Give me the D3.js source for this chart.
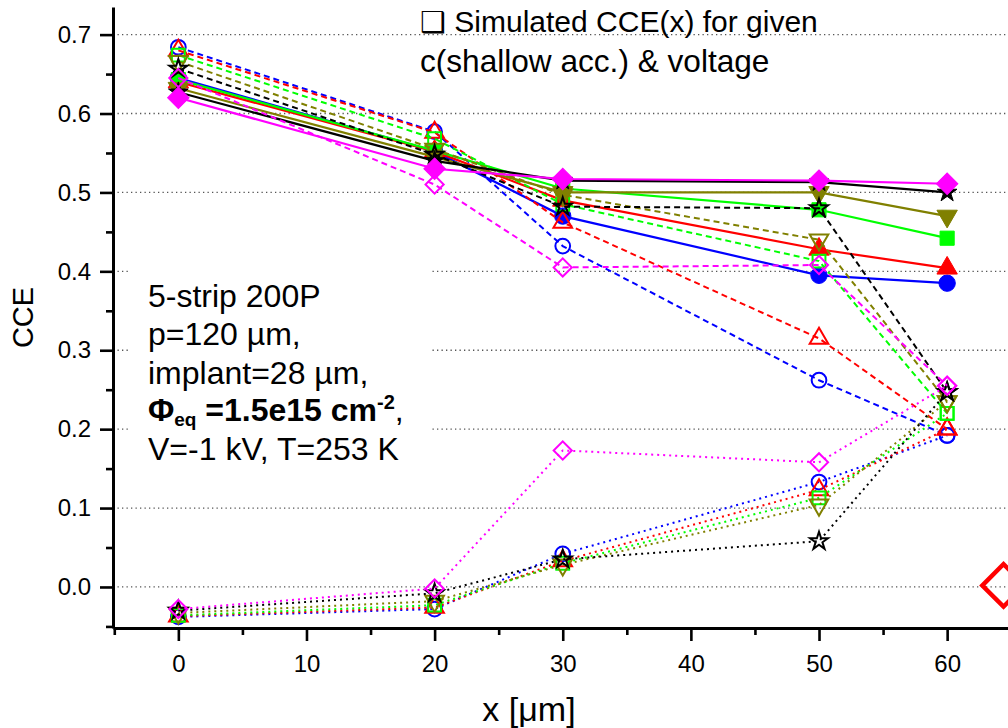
<!DOCTYPE html>
<html>
<head>
<meta charset="utf-8">
<script src="https://cdn.jsdelivr.net/npm/d3@7"></script>
<style>
  html, body { margin: 0; padding: 0; background: #fff; }
  svg { display: block; font-family: "Liberation Sans", Arial, Helvetica, sans-serif; }
</style>
</head>
<body>
<svg id="chart" width="1008" height="728"></svg>
<script>
// ---- data ---------------------------------------------------------------
const xValues = [0, 20, 30, 50, 60];            // position x [µm]
const xTickValues = [0, 10, 20, 30, 40, 50, 60];
const xMinorTicks = [-5, 5, 15, 25, 35, 45, 55];
const yTickValues = [0.0, 0.1, 0.2, 0.3, 0.4, 0.5, 0.6, 0.7];
const yTickLabels = ["0.0", "0.1", "0.2", "0.3", "0.4", "0.5", "0.6", "0.7"];
const yMinorTicks = [-0.05, 0.05, 0.15, 0.25, 0.35, 0.45, 0.55, 0.65];

// solid lines, filled symbols
const solidBlue    = [0.645, 0.552, 0.470, 0.395, 0.385];
const solidRed     = [0.640, 0.552, 0.490, 0.428, 0.404];
const solidGreen   = [0.643, 0.553, 0.505, 0.478, 0.442];
const solidOlive   = [0.632, 0.545, 0.500, 0.500, 0.470];
const solidBlack   = [0.627, 0.540, 0.515, 0.513, 0.500];
const solidMagenta = [0.620, 0.530, 0.517, 0.515, 0.511];

// dashed lines, open symbols
const dashedBlue    = [0.684, 0.577, 0.432, 0.262, 0.192];
const dashedRed     = [0.680, 0.576, 0.462, 0.315, 0.200];
const dashedGreen   = [0.674, 0.568, 0.485, 0.413, 0.220];
const dashedOlive   = [0.666, 0.555, 0.497, 0.440, 0.235];
const dashedBlack   = [0.657, 0.548, 0.482, 0.480, 0.247];
const dashedMagenta = [0.645, 0.510, 0.405, 0.408, 0.255];

// dotted lines, open symbols
const dottedBlue    = [-0.038, -0.028, 0.042, 0.133, 0.192];
const dottedRed     = [-0.037, -0.026, 0.033, 0.123, 0.200];
const dottedGreen   = [-0.036, -0.023, 0.030, 0.113, 0.220];
const dottedOlive   = [-0.033, -0.018, 0.028, 0.104, 0.235];
const dottedBlack   = [-0.030, -0.008, 0.035, 0.058, 0.247];
const dottedMagenta = [-0.028, -0.002, 0.173, 0.158, 0.255];

const groupColours = ["#0000ff", "#ff0000", "#00ff00", "#808000", "#000000", "#ff00ff"];
const groupSymbols = ["circle", "triangleUp", "square", "triangleDown", "star", "diamond"];
const solidSets  = [solidBlue, solidRed, solidGreen, solidOlive, solidBlack, solidMagenta];
const dashedSets = [dashedBlue, dashedRed, dashedGreen, dashedOlive, dashedBlack, dashedMagenta];
const dottedSets = [dottedBlue, dottedRed, dottedGreen, dottedOlive, dottedBlack, dottedMagenta];

// ---- layout -------------------------------------------------------------
const svg = d3.select("#chart");
const x = d3.scaleLinear().domain([-5.1, 64.75]).range([113, 1008]);
const y = d3.scaleLinear().domain([-0.052, 0.735]).range([628, 7]);

// horizontal dotted grid
svg.append("g").selectAll("line").data(yTickValues).join("line")
  .attr("x1", x.range()[0]).attr("x2", x.range()[1])
  .attr("y1", d => y(d)).attr("y2", d => y(d))
  .attr("stroke", "#555").attr("stroke-width", 1.3)
  .attr("stroke-dasharray", "1.3,3.2");

// ---- axes ---------------------------------------------------------------
function styleAxis(g) {
  g.selectAll(".domain").attr("stroke", "#000").attr("stroke-width", 3);
  g.selectAll(".tick line").attr("stroke", "#000").attr("stroke-width", 2.6);
  g.selectAll(".tick text").attr("font-size", 24).attr("fill", "#000")
    .attr("font-family", "'Liberation Sans', Arial, sans-serif");
}

const yAxis = svg.append("g").attr("transform", `translate(${x.range()[0]},0)`)
  .call(d3.axisLeft(y).tickValues(yTickValues)
    .tickFormat((d, i) => yTickLabels[i]).tickSize(13).tickSizeOuter(0).tickPadding(9));
styleAxis(yAxis);
const yMinor = svg.append("g").attr("transform", `translate(${x.range()[0]},0)`)
  .call(d3.axisLeft(y).tickValues(yMinorTicks).tickFormat("").tickSize(7).tickSizeOuter(0));
styleAxis(yMinor);
yMinor.select(".domain").remove();

const xAxis = svg.append("g").attr("transform", `translate(0,${y.range()[0]})`)
  .call(d3.axisBottom(x).tickValues(xTickValues).tickFormat(d3.format("d"))
    .tickSize(13).tickSizeOuter(0).tickPadding(14));
styleAxis(xAxis);
const xMinor = svg.append("g").attr("transform", `translate(0,${y.range()[0]})`)
  .call(d3.axisBottom(x).tickValues(xMinorTicks).tickFormat("").tickSize(7).tickSizeOuter(0));
styleAxis(xMinor);
xMinor.select(".domain").remove();

// axis titles
svg.append("text")
  .attr("transform", `translate(33,${(y.range()[0] + y.range()[1]) / 2 + 0}) rotate(-90)`)
  .attr("text-anchor", "middle").attr("font-size", 29).text("CCE");
svg.append("text")
  .attr("x", 529).attr("y", 721).attr("text-anchor", "middle")
  .attr("font-size", 34).text("x [\u03bcm]");

// ---- annotation box ------------------------------------------------------
svg.append("rect").attr("x", 129).attr("y", 258).attr("width", 302).attr("height", 214)
  .attr("fill", "#fff");
const note = svg.append("g").attr("font-size", 32).attr("fill", "#000");
note.append("text").attr("x", 148).attr("y", 307).text("5-strip 200P");
note.append("text").attr("x", 148).attr("y", 345).text("p=120 \u00b5m,");
note.append("text").attr("x", 148).attr("y", 384).text("implant=28 \u00b5m,");
const fl = note.append("text").attr("x", 148).attr("y", 421);
fl.append("tspan").attr("font-weight", "bold").text("\u03a6");
fl.append("tspan").attr("font-weight", "bold").attr("font-size", 19).attr("dy", 5).text("eq");
fl.append("tspan").attr("font-weight", "bold").attr("dy", -5).text(" =1.5e15 cm");
fl.append("tspan").attr("font-weight", "bold").attr("font-size", 20).attr("dy", -12).text("-2");
fl.append("tspan").attr("dy", 12).text(",");
note.append("text").attr("x", 148).attr("y", 460).text("V=-1 kV, T=253 K");

// heading
const head = svg.append("g").attr("fill", "#000");
head.append("text").attr("x", 420).attr("y", 32).attr("font-size", 30)
  .html('<tspan font-family="DejaVu Sans" font-weight="bold" font-size="29">\u2751</tspan> Simulated CCE(x) for given');
head.append("text").attr("x", 420).attr("y", 72).attr("font-size", 31.6)
  .text("c(shallow acc.) & voltage");

// ---- series --------------------------------------------------------------
function symbolPath(kind, filled) {
  switch (kind) {
    case "circle":       return d3.symbol(d3.symbolCircle, filled ? 210 : 170)();
    case "triangleUp":   return d3.symbol(d3.symbolTriangle, filled ? 180 : 150)();
    case "triangleDown": return d3.symbol(d3.symbolTriangle, filled ? 180 : 150)();
    case "square":       return d3.symbol(d3.symbolSquare, filled ? 200 : 165)();
    case "diamond":      return d3.symbol(d3.symbolSquare, filled ? 230 : 165)();
    case "star":         return d3.symbol(d3.symbolStar, filled ? 120 : 100)();
  }
}
function symbolRotation(kind) {
  if (kind === "triangleDown") return 180;
  if (kind === "diamond") return 45;
  return 0;
}

const lineGen = d3.line().x(d => x(d[0])).y(d => y(d[1]));
const styles = [
  { key: "solid",  sets: solidSets,  dash: null,  width: 2.2, filled: true },
  { key: "dashed", sets: dashedSets, dash: "6,4", width: 2,   filled: false },
  { key: "dotted", sets: dottedSets, dash: "2,4", width: 2,   filled: false }
];

const plot = svg.append("g");
groupColours.forEach((colour, gi) => {
  styles.forEach(st => {
    const pts = xValues.map((xv, i) => [xv, st.sets[gi][i]]);
    const g = plot.append("g").attr("class", `series ${st.key}`);
    g.append("path").attr("d", lineGen(pts))
      .attr("fill", "none").attr("stroke", colour).attr("stroke-width", st.width)
      .attr("stroke-dasharray", st.dash);
    const kind = groupSymbols[gi];
    g.selectAll("path.mark").data(pts).join("path").attr("class", "mark")
      .attr("d", symbolPath(kind, st.filled))
      .attr("transform", d => `translate(${x(d[0])},${y(d[1])}) rotate(${symbolRotation(kind)})`)
      .attr("fill", st.filled ? colour : "none")
      .attr("stroke", colour).attr("stroke-width", st.filled ? 1 : 2);
  });
});

// open red diamond at the right edge
svg.append("path")
  .attr("d", d3.symbol(d3.symbolSquare, 900)())
  .attr("transform", `translate(${x(64.4)},${y(0.002)}) rotate(45)`)
  .attr("fill", "none").attr("stroke", "#ff0000").attr("stroke-width", 4.5);
</script>
</body>
</html>
